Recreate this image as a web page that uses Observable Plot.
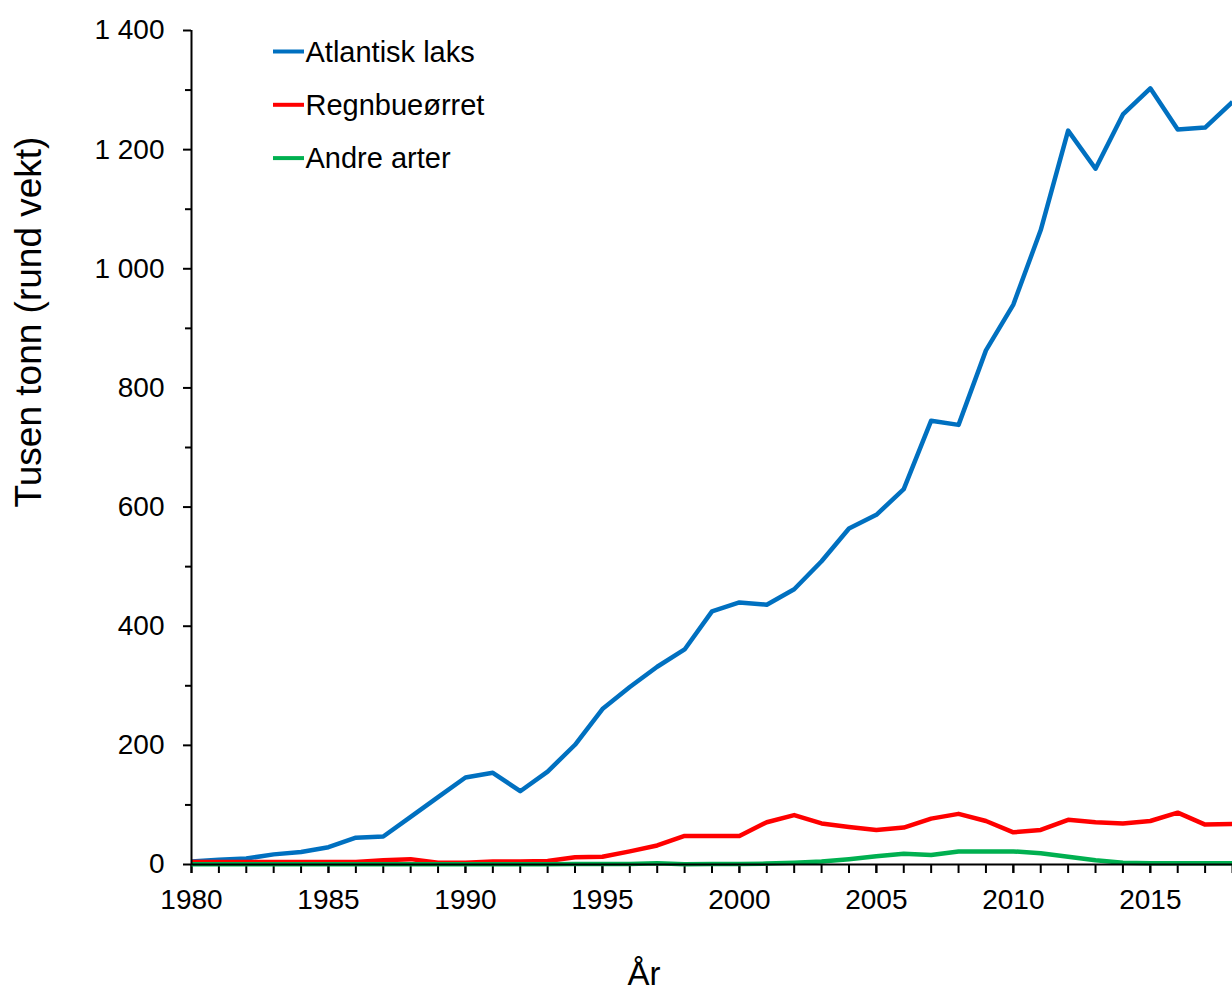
<!DOCTYPE html>
<html>
<head>
<meta charset="utf-8">
<script src="https://cdn.jsdelivr.net/npm/d3@7"></script>
<script src="https://cdn.jsdelivr.net/npm/@observablehq/plot@0.6"></script>
<style>
  html, body { margin: 0; padding: 0; background: #fff; overflow: hidden; }
  #chart { position: relative; width: 1232px; height: 992px; }
</style>
</head>
<body>
<div id="chart"></div>
<script>
const years = [1980,1981,1982,1983,1984,1985,1986,1987,1988,1989,1990,1991,1992,1993,1994,1995,1996,1997,1998,1999,2000,2001,2002,2003,2004,2005,2006,2007,2008,2009,2010,2011,2012,2013,2014,2015,2016,2017,2018];
const atlantiskLaks = [5,8,10,17,21,29,45,47,80,113,146,154,123,156,201,261,298,332,361,425,440,436,462,509,564,587,630,745,738,863,940,1065,1232,1168,1259,1303,1234,1237,1280];
const regnbueorret = [4,4,4,4,4,4,4,7,9,3,3,5,5,6,12,13,22,32,48,48,48,71,83,69,63,58,62,77,85,73,54,58,75,71,69,73,87,67,68];
const andreArter = [0.5,0.5,0.5,0.5,0.5,0.5,0.5,0.5,0.5,0.5,0.5,0.5,0.5,0.5,1,1,1,2,0.5,1,1,1.5,3,5,9,14,18,16,22,22,22,19,13,7,3,2,2,2,2];

const seriesNames = ["Atlantisk laks", "Regnbueørret", "Andre arter"];
const seriesColors = ["#0070C0", "#FF0000", "#00B050"];
const seriesValues = [atlantiskLaks, regnbueorret, andreArter];

const xMajorTicks = [1980,1985,1990,1995,2000,2005,2010,2015];
const xMinorTicks = years;
const yMajorTicks = [0,200,400,600,800,1000,1200,1400];
const yMinorTicks = [100,300,500,700,900,1100,1300];
const xTitle = "År";
const yTitle = "Tusen tonn (rund vekt)";

const rows = [];
seriesNames.forEach((name, i) => {
  years.forEach((yr, j) => rows.push({series: name, year: yr, value: seriesValues[i][j]}));
});

const fmtY = d => d >= 1000 ? String(d).replace(/(\d)(\d{3})$/, "$1 $2") : String(d);
const font = "'Liberation Sans', Arial, Helvetica, sans-serif";

const plot = Plot.plot({
  width: 1232,
  height: 992,
  marginLeft: 191,
  marginRight: 0,
  marginTop: 30,
  marginBottom: 128,
  style: {fontFamily: font, background: "#fff", color: "#000", overflow: "visible"},
  x: {domain: [1980, 2018], label: null},
  y: {domain: [0, 1400], label: null},
  color: {domain: seriesNames, range: seriesColors},
  marks: [
    Plot.axisX(xMinorTicks, {tickSize: 9, strokeWidth: 2, tickFormat: () => "", label: null}),
    Plot.axisX(xMajorTicks, {tickSize: 9, tickPadding: 16, strokeWidth: 2, fontSize: 28, tickFormat: d => String(d), label: null}),
    Plot.axisY(yMinorTicks, {tickSize: 6, strokeWidth: 2, tickFormat: () => "", label: null}),
    Plot.axisY(yMajorTicks, {tickSize: 8, tickPadding: 19, strokeWidth: 2, fontSize: 28, tickFormat: fmtY, label: null}),
    Plot.line(rows, {x: "year", y: "value", z: "series", stroke: "series", strokeWidth: 4.5, strokeLinejoin: "round", strokeLinecap: "butt"}),
    Plot.ruleY([0], {stroke: "#000", strokeWidth: 2}),
    Plot.ruleX([1980], {stroke: "#000", strokeWidth: 2})
  ]
});

document.getElementById("chart").appendChild(plot);

const svg = d3.select(plot);
// y-axis title
svg.append("text")
  .attr("transform", "translate(41,322) rotate(-90)")
  .attr("text-anchor", "middle")
  .attr("font-family", font)
  .attr("font-size", 37)
  .attr("fill", "#000")
  .text(yTitle);
// x-axis title
svg.append("text")
  .attr("x", 644)
  .attr("y", 985)
  .attr("text-anchor", "middle")
  .attr("font-family", font)
  .attr("font-size", 33)
  .attr("fill", "#000")
  .text(xTitle);
// legend
const legend = svg.append("g").attr("text-anchor", "start");
seriesNames.forEach((name, i) => {
  const cy = 51.5 + i * 53.3;
  legend.append("line")
    .attr("x1", 273).attr("x2", 304)
    .attr("y1", cy).attr("y2", cy)
    .attr("stroke", seriesColors[i])
    .attr("stroke-width", 4);
  legend.append("text")
    .attr("x", 305.5)
    .attr("y", cy + 10)
    .attr("text-anchor", "start")
    .attr("font-family", font)
    .attr("font-size", 29)
    .attr("fill", "#000")
    .text(name);
});
</script>
</body>
</html>
